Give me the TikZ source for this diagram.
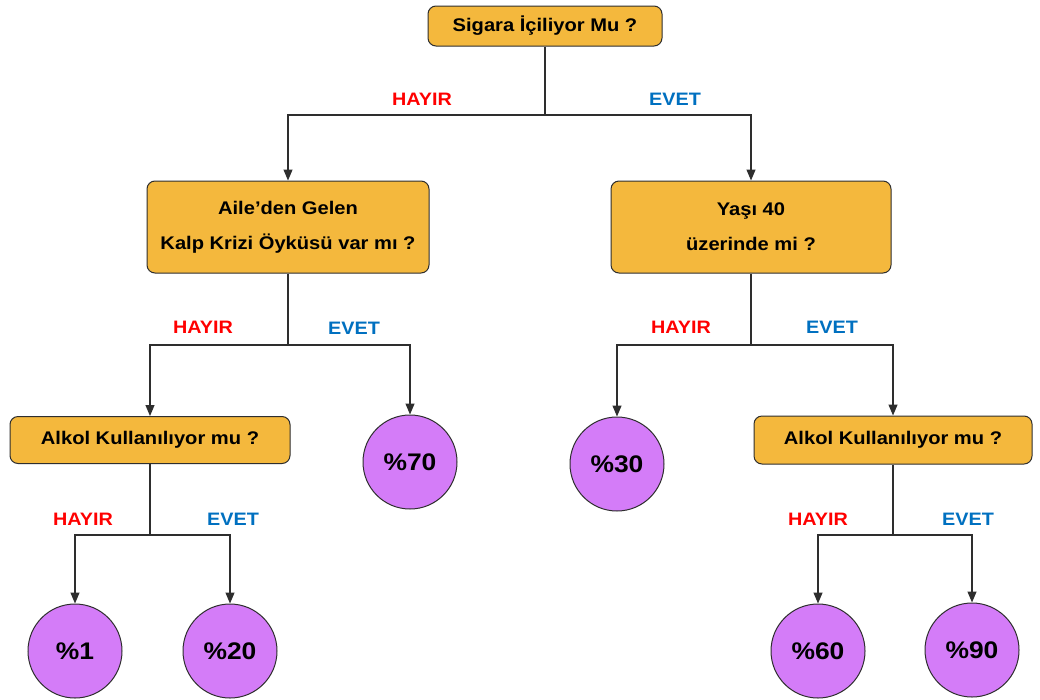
\documentclass[tikz,border=0pt]{standalone}
\usepackage{fontspec}
\setmainfont{Liberation Sans}[FakeStretch=1.1]
\usetikzlibrary{arrows.meta}
\definecolor{boxfill}{HTML}{F4B83D}
\definecolor{circfill}{HTML}{D47CF8}
\definecolor{edgegray}{HTML}{2E2E2E}
\definecolor{nored}{HTML}{FF0000}
\definecolor{yesblue}{HTML}{0070C0}
\begin{document}
\begin{tikzpicture}[x=1pt,y=-1pt,
  qbox/.style={draw=edgegray,line width=1pt,fill=boxfill,rounded corners=8pt,
     align=center,font=\fontsize{18.3}{35}\selectfont\bfseries,inner sep=0pt},
  pct/.style={draw=edgegray,line width=1pt,fill=circfill,circle,minimum size=94pt,
     inner sep=0pt,font=\fontsize{24}{28}\selectfont\bfseries},
  conn/.style={draw=edgegray,line width=1.2pt},
  arr/.style={conn,-{Triangle[width=9pt,length=11pt]}},
  nolab/.style={text=nored,font=\fontsize{18}{20}\selectfont\bfseries,inner sep=0pt},
  yeslab/.style={text=yesblue,font=\fontsize{18}{20}\selectfont\bfseries,inner sep=0pt}
]
\useasboundingbox (0,0) rectangle (1040,699);
\fill[white] (0,0) rectangle (1040,699);

% question boxes
\node[qbox,minimum width=234pt,minimum height=40pt] (root) at (545,26) {Sigara İçiliyor Mu ?};
\node[qbox,minimum width=282pt,minimum height=92pt] (L1) at (288,227) {Aile’den Gelen\\Kalp Krizi Öyküsü var mı ?};
\node[qbox,minimum width=280pt,minimum height=92pt] (R1) at (751,227) {Yaşı 40\\üzerinde mi ?};
\node[qbox,minimum width=280pt,minimum height=47pt] (L2) at (150,440) {Alkol Kullanılıyor mu ?};
\node[qbox,minimum width=278pt,minimum height=48pt] (R2) at (893,440) {Alkol Kullanılıyor mu ?};

% result circles
\node[pct] (c70) at (410,462) {\%70};
\node[pct] (c30) at (617,464) {\%30};
\node[pct] (c1) at (75,651) {\%1};
\node[pct] (c20) at (230,651) {\%20};
\node[pct] (c60) at (818,651) {\%60};
\node[pct] (c90) at (972,650) {\%90};

% junctions
\coordinate (j0) at (545,115);
\coordinate (j1) at (288,345);
\coordinate (j2) at (751,345);
\coordinate (j3) at (150,535);
\coordinate (j4) at (893,535);

% connectors
\draw[conn] (root.south) -- (j0);
\draw[arr] (j0) -| (L1.north);
\draw[arr] (j0) -| (R1.north);
\draw[conn] (L1.south) -- (j1);
\draw[arr] (j1) -| (L2.north);
\draw[arr] (j1) -| (c70.north);
\draw[conn] (R1.south) -- (j2);
\draw[arr] (j2) -| (c30.north);
\draw[arr] (j2) -| (R2.north);
\draw[conn] (L2.south) -- (j3);
\draw[arr] (j3) -| (c1.north);
\draw[arr] (j3) -| (c20.north);
\draw[conn] (R2.south) -- (j4);
\draw[arr] (j4) -| (c60.north);
\draw[arr] (j4) -| (c90.north);

% labels
\node[nolab] (n0) at (422,99) {HAYIR};
\node[yeslab] (y0) at (675,99) {EVET};
\node[nolab] (n1) at (203,327) {HAYIR};
\node[yeslab] (y1) at (354,328) {EVET};
\node[nolab] (n2) at (681,327) {HAYIR};
\node[yeslab] (y2) at (832,327) {EVET};
\node[nolab] (n3) at (83,519) {HAYIR};
\node[yeslab] (y3) at (233,519) {EVET};
\node[nolab] (n4) at (818,519) {HAYIR};
\node[yeslab] (y4) at (968,519) {EVET};
\end{tikzpicture}
\end{document}
